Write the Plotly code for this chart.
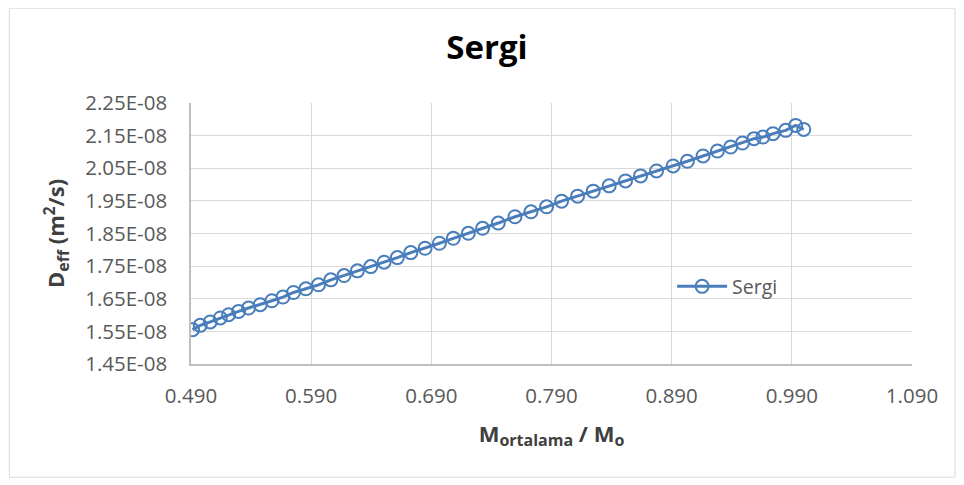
import plotly.graph_objects as go

# Data
m_ratio = [0.4913, 0.4977, 0.5060, 0.5144, 0.5213, 0.5296, 0.5379, 0.5476, 0.5573, 0.5665,
           0.5753, 0.5856, 0.5961, 0.6064, 0.6174, 0.6285, 0.6396, 0.6507, 0.6617, 0.6729,
           0.6848, 0.6967, 0.7083, 0.7208, 0.7327, 0.7457, 0.7596, 0.7729, 0.7859, 0.7984,
           0.8117, 0.8247, 0.8380, 0.8516, 0.8641, 0.8774, 0.8912, 0.9031, 0.9161, 0.9281,
           0.9391, 0.9489, 0.9585, 0.9660, 0.9743, 0.9849, 0.9932, 0.9999]
d_eff_e8 = [1.5553, 1.5685, 1.5789, 1.5911, 1.6011, 1.6112, 1.6216, 1.6317, 1.6439, 1.6552,
            1.6692, 1.6805, 1.6927, 1.7080, 1.7211, 1.7355, 1.7486, 1.7621, 1.7761, 1.7914,
            1.8048, 1.8201, 1.8353, 1.8506, 1.8659, 1.8821, 1.9013, 1.9166, 1.9318, 1.9492,
            1.9645, 1.9798, 1.9960, 2.0112, 2.0265, 2.0418, 2.0570, 2.0714, 2.0876, 2.1028,
            2.1150, 2.1273, 2.1407, 2.1456, 2.1560, 2.1661, 2.1814, 2.1691]
d_eff = [v * 1e-8 for v in d_eff_e8]

x_ticks = [0.49, 0.59, 0.69, 0.79, 0.89, 0.99, 1.09]
x_tick_labels = ["0.490", "0.590", "0.690", "0.790", "0.890", "0.990", "1.090"]
y_ticks_e8 = [1.45, 1.55, 1.65, 1.75, 1.85, 1.95, 2.05, 2.15, 2.25]
y_tick_labels = ["1.45E-08", "1.55E-08", "1.65E-08", "1.75E-08", "1.85E-08",
                 "1.95E-08", "2.05E-08", "2.15E-08", "2.25E-08"]
y_ticks = [v * 1e-8 for v in y_ticks_e8]

series_name = "Sergi"
title_text = "Sergi"

color = "#4a7ebb"
font = "Open Sans"

fig = go.Figure()
fig.add_trace(go.Scatter(
    x=m_ratio, y=d_eff, name=series_name, mode="lines+markers",
    line=dict(color=color, width=3),
    marker=dict(symbol="circle-open", size=13, color=color, line=dict(width=2, color=color)),
))

W, H = 964, 485
OFF = 8  # page body margin
L, R, T, B = 190.7 - OFF, 912 - OFF, 103 - OFF, 364.5 - OFF

def px_x(p):
    return (p - OFF - L) / (R - L)

def px_y(p):
    return (B - (p - OFF)) / (B - T)

sub = "<sub><span style='font-size:16px'>{}</span></sub>"
x_title = "<b>M" + sub.format("ortalama") + " / M" + sub.format("o") + "</b>"
y_title = "<b>D" + sub.format("eff") + " (m<sup>2</sup>/s)</b>"

fig.update_layout(
    width=W, height=H,
    margin=dict(l=L, r=W - R, t=T, b=H - B, autoexpand=False),
    paper_bgcolor="white", plot_bgcolor="white",
    font=dict(family=font, color="#595959"),
    title=dict(text="<b>" + title_text + "</b>", x=(487 - OFF) / W, xanchor="center",
               y=1 - (47 - OFF) / H, yanchor="middle",
               font=dict(size=33, color="#000000", family=font)),
    showlegend=True,
    legend=dict(x=px_x(672), y=px_y(287), xanchor="left", yanchor="middle",
                bgcolor="rgba(0,0,0,0)", font=dict(size=19.5, color="#595959", family=font),
                itemwidth=50),
    xaxis=dict(range=[0.49, 1.09], tickvals=x_ticks, ticktext=x_tick_labels,
               showgrid=True, gridcolor="#d9d9d9", gridwidth=1,
               showline=True, linecolor="#bfbfbf", linewidth=1.5,
               zeroline=False, ticks="", ticklabelstandoff=13,
               tickfont=dict(size=20.5, color="#595959"),
               title=dict(text=x_title,
                          font=dict(size=22, color="#404040"), standoff=18)),
    yaxis=dict(range=[1.45e-8, 2.25e-8], tickvals=y_ticks, ticktext=y_tick_labels,
               showgrid=True, gridcolor="#d9d9d9", gridwidth=1,
               showline=True, linecolor="#bfbfbf", linewidth=1.5,
               zeroline=False, ticks="", ticklabelstandoff=18,
               tickfont=dict(size=20.5, color="#595959"),
               title=dict(text=y_title,
                          font=dict(size=22, color="#404040"), standoff=14)),
    shapes=[dict(type="rect", xref="paper", yref="paper",
                 x0=px_x(9), x1=px_x(955), y0=px_y(478), y1=px_y(8),
                 line=dict(color="#d9d9d9", width=1), fillcolor="rgba(0,0,0,0)",
                 layer="below")],
)

fig.write_html("out.html")
